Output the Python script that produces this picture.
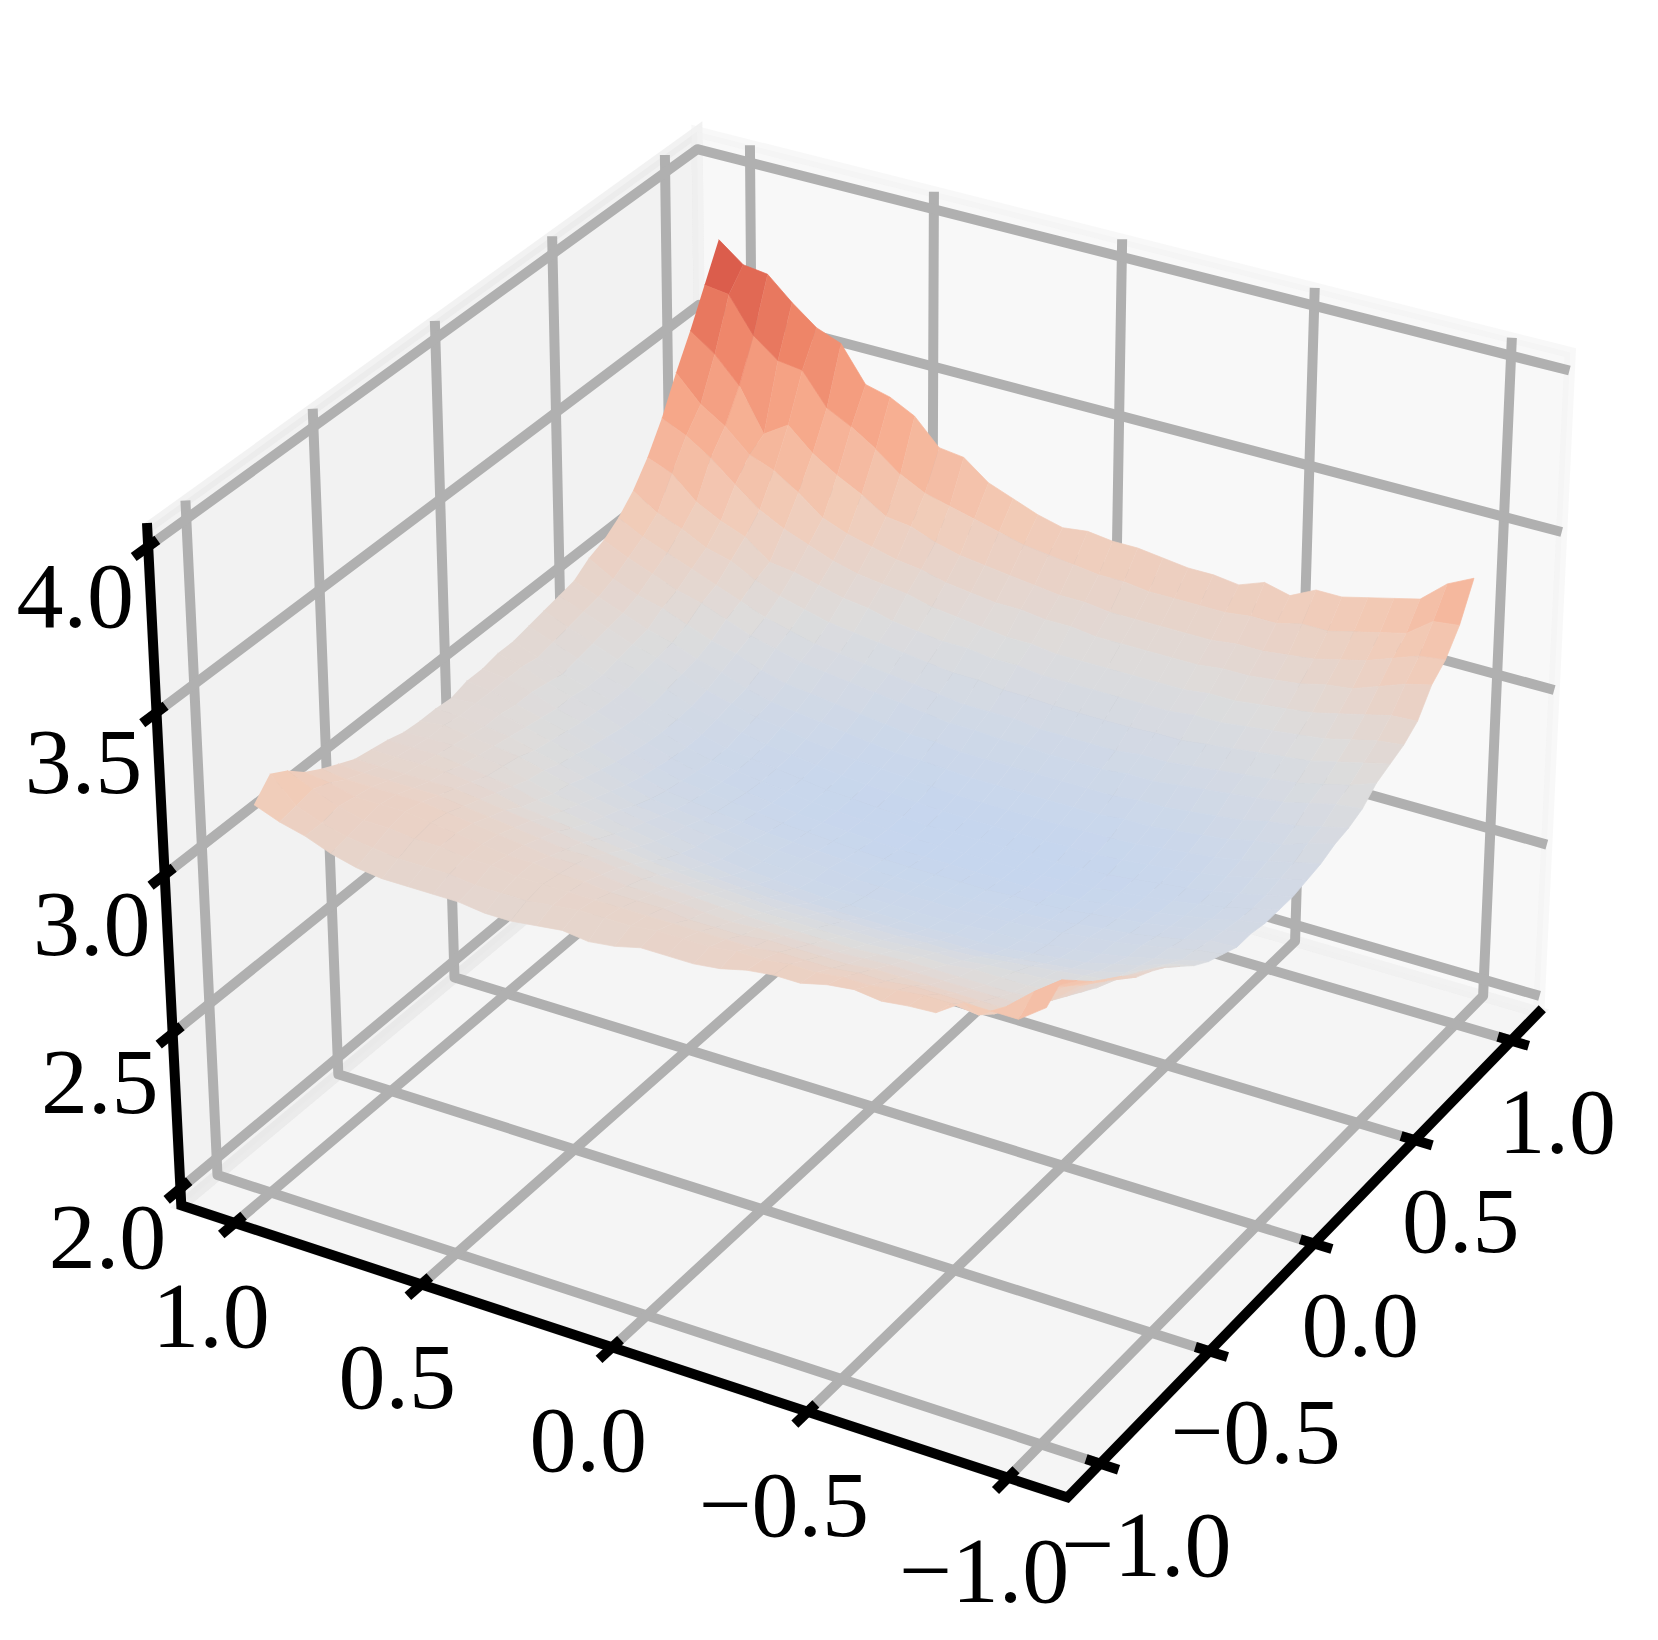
import numpy as np, pandas as pd, altair as alt
alt.data_transformers.disable_max_rows()
row_00=[3.83,3.77,3.76,3.69,3.63,3.60,3.49,3.47,3.43,3.35,3.34,3.28,3.25,3.22,3.20,3.21,3.20,3.20,3.19,3.18,3.18,3.17,3.20,3.18,3.22,3.22,3.24,3.26,3.28,3.35,3.39]
row_01=[3.72,3.71,3.60,3.54,3.53,3.43,3.39,3.34,3.28,3.24,3.22,3.20,3.18,3.16,3.15,3.14,3.13,3.13,3.12,3.12,3.12,3.12,3.13,3.13,3.15,3.15,3.17,3.19,3.21,3.27,3.28]
row_02=[3.61,3.555,3.475,3.34,3.39,3.32,3.27,3.23,3.18,3.17,3.14,3.12,3.11,3.10,3.09,3.08,3.08,3.07,3.07,3.07,3.07,3.07,3.08,3.08,3.09,3.10,3.12,3.14,3.17,3.20,3.21]
row_03=[3.51,3.43,3.38,3.31,3.28,3.23,3.17,3.14,3.12,3.10,3.09,3.07,3.06,3.05,3.05,3.04,3.04,3.03,3.03,3.03,3.03,3.03,3.04,3.04,3.05,3.06,3.08,3.09,3.12,3.15,3.17]
row_04=[3.40,3.365,3.315,3.25,3.19,3.15,3.12,3.09,3.07,3.06,3.05,3.03,3.02,3.01,3.00,3.00,2.99,2.99,2.99,2.99,2.99,2.99,3.00,3.00,3.01,3.02,3.03,3.05,3.07,3.09,3.095]
row_05=[3.31,3.28,3.21,3.17,3.14,3.08,3.07,3.05,3.03,3.02,3.00,2.99,2.98,2.98,2.97,2.97,2.96,2.96,2.96,2.96,2.96,2.96,2.97,2.97,2.98,2.99,3.00,3.01,3.03,3.05,3.06]
row_06=[3.24,3.19,3.16,3.12,3.10,3.06,3.03,3.01,2.99,2.98,2.97,2.96,2.95,2.94,2.94,2.93,2.93,2.925,2.925,2.925,2.925,2.93,2.93,2.94,2.95,2.96,2.97,2.98,3.00,3.02,3.04]
row_07=[3.19,3.15,3.12,3.09,3.06,3.03,3.00,2.98,2.96,2.95,2.94,2.93,2.92,2.91,2.90,2.90,2.90,2.89,2.89,2.89,2.89,2.90,2.90,2.91,2.92,2.93,2.94,2.95,2.97,2.99,3.02]
row_08=[3.155,3.12,3.09,3.06,3.04,3.01,2.98,2.96,2.94,2.93,2.92,2.91,2.90,2.89,2.88,2.88,2.875,2.875,2.87,2.87,2.87,2.88,2.88,2.89,2.90,2.91,2.92,2.93,2.95,2.97,2.98]
row_09=[3.135,3.09,3.06,3.04,3.01,2.98,2.96,2.93,2.91,2.90,2.89,2.88,2.87,2.86,2.86,2.85,2.85,2.85,2.85,2.85,2.85,2.85,2.86,2.86,2.87,2.88,2.89,2.91,2.92,2.94,2.96]
row_10=[3.10,3.07,3.04,3.01,2.99,2.96,2.94,2.91,2.89,2.88,2.87,2.86,2.85,2.84,2.84,2.835,2.83,2.83,2.83,2.83,2.83,2.83,2.84,2.84,2.85,2.86,2.87,2.89,2.90,2.93,2.95]
row_11=[3.09,3.06,3.03,3.00,2.98,2.95,2.92,2.90,2.88,2.87,2.855,2.845,2.835,2.83,2.825,2.82,2.815,2.815,2.815,2.815,2.815,2.82,2.82,2.825,2.835,2.845,2.855,2.87,2.89,2.91,2.93]
row_12=[3.08,3.05,3.02,2.99,2.97,2.94,2.91,2.89,2.87,2.855,2.845,2.835,2.825,2.82,2.815,2.81,2.805,2.805,2.805,2.805,2.805,2.81,2.81,2.815,2.825,2.835,2.845,2.86,2.88,2.90,2.92]
row_13=[3.07,3.04,3.01,2.98,2.96,2.93,2.905,2.88,2.86,2.85,2.84,2.83,2.82,2.815,2.81,2.805,2.80,2.80,2.80,2.80,2.80,2.80,2.805,2.81,2.82,2.83,2.84,2.855,2.87,2.89,2.91]
row_14=[3.06,3.03,3.00,2.98,2.96,2.93,2.905,2.88,2.86,2.85,2.84,2.83,2.82,2.815,2.81,2.805,2.80,2.80,2.80,2.80,2.80,2.80,2.805,2.81,2.82,2.83,2.84,2.855,2.87,2.89,2.91]
row_15=[3.06,3.04,3.01,2.99,2.965,2.935,2.91,2.885,2.865,2.855,2.845,2.835,2.825,2.82,2.815,2.81,2.805,2.805,2.805,2.805,2.805,2.805,2.81,2.815,2.825,2.835,2.845,2.86,2.875,2.895,2.91]
row_16=[3.05,3.04,3.02,2.99,2.97,2.945,2.92,2.895,2.875,2.865,2.855,2.845,2.835,2.83,2.825,2.82,2.815,2.815,2.815,2.815,2.815,2.82,2.82,2.825,2.835,2.845,2.855,2.87,2.885,2.905,2.92]
row_17=[3.05,3.04,3.02,3.00,2.98,2.955,2.93,2.905,2.885,2.875,2.865,2.855,2.845,2.84,2.835,2.83,2.825,2.825,2.825,2.825,2.825,2.83,2.83,2.835,2.845,2.855,2.865,2.88,2.895,2.915,2.92]
row_18=[3.035,3.04,3.03,3.01,2.99,2.97,2.945,2.92,2.90,2.89,2.88,2.87,2.86,2.855,2.85,2.845,2.835,2.835,2.835,2.835,2.835,2.84,2.845,2.85,2.86,2.87,2.88,2.895,2.91,2.93,2.94]
row_19=[3.04,3.04,3.03,3.02,3.00,2.98,2.96,2.94,2.92,2.91,2.90,2.89,2.875,2.86,2.855,2.85,2.845,2.845,2.845,2.845,2.845,2.85,2.855,2.855,2.865,2.875,2.885,2.90,2.92,2.94,2.96]
row_20=[3.04,3.05,3.04,3.03,3.02,3.00,2.98,2.96,2.945,2.93,2.915,2.90,2.885,2.875,2.87,2.865,2.86,2.86,2.86,2.86,2.86,2.865,2.865,2.87,2.88,2.89,2.90,2.92,2.94,2.97,2.99]
row_21=[3.045,3.05,3.05,3.04,3.03,3.01,2.99,2.98,2.965,2.95,2.935,2.92,2.91,2.90,2.895,2.89,2.885,2.885,2.885,2.885,2.885,2.89,2.89,2.895,2.905,2.915,2.925,2.94,2.96,3.00,3.03]
row_22=[3.06,3.06,3.06,3.05,3.04,3.03,3.01,3.00,2.985,2.975,2.96,2.945,2.935,2.93,2.925,2.92,2.92,2.92,2.92,2.92,2.92,2.925,2.925,2.93,2.94,2.95,2.96,2.97,2.98,3.03,3.07]
row_23=[3.07,3.07,3.07,3.07,3.06,3.05,3.03,3.02,3.01,3.00,2.99,2.98,2.97,2.965,2.96,2.955,2.95,2.95,2.95,2.95,2.95,2.955,2.96,2.96,2.97,2.975,2.98,2.99,3.00,3.06,3.10]
row_24=[3.08,3.08,3.08,3.08,3.08,3.07,3.06,3.05,3.04,3.03,3.02,3.01,3.00,2.995,2.99,2.985,2.98,2.98,2.98,2.98,2.98,2.985,2.99,2.99,3.00,3.00,3.00,3.01,3.03,3.09,3.125]
row_25=[3.105,3.10,3.10,3.10,3.10,3.09,3.08,3.07,3.06,3.05,3.05,3.04,3.03,3.025,3.02,3.015,3.01,3.01,3.01,3.01,3.01,3.015,3.02,3.02,3.02,3.02,3.02,3.03,3.06,3.13,3.17]
row_26=[3.13,3.12,3.12,3.12,3.12,3.11,3.10,3.09,3.08,3.07,3.07,3.06,3.05,3.05,3.045,3.04,3.035,3.04,3.04,3.04,3.04,3.045,3.05,3.05,3.05,3.05,3.05,3.05,3.09,3.16,3.20]
row_27=[3.16,3.15,3.13,3.13,3.13,3.12,3.11,3.10,3.09,3.09,3.08,3.08,3.07,3.07,3.07,3.06,3.06,3.06,3.07,3.07,3.07,3.07,3.08,3.08,3.08,3.08,3.08,3.08,3.13,3.20,3.24]
row_28=[3.205,3.17,3.14,3.12,3.12,3.11,3.11,3.10,3.10,3.09,3.09,3.09,3.09,3.09,3.09,3.09,3.09,3.09,3.09,3.10,3.10,3.10,3.11,3.11,3.12,3.12,3.12,3.11,3.17,3.24,3.285]
row_29=[3.235,3.16,3.13,3.11,3.10,3.09,3.09,3.09,3.08,3.08,3.08,3.09,3.10,3.10,3.10,3.11,3.11,3.11,3.12,3.12,3.13,3.13,3.14,3.14,3.15,3.16,3.16,3.15,3.20,3.27,3.33]
row_30=[3.18,3.15,3.13,3.10,3.08,3.07,3.07,3.07,3.07,3.06,3.06,3.07,3.08,3.07,3.08,3.10,3.10,3.10,3.11,3.13,3.14,3.14,3.16,3.17,3.16,3.17,3.175,3.23,3.23,3.23,3.29]
Z=np.array([row_00,row_01,row_02,row_03,row_04,row_05,row_06,row_07,row_08,row_09,row_10,row_11,row_12,row_13,row_14,row_15,row_16,row_17,row_18,row_19,row_20,row_21,row_22,row_23,row_24,row_25,row_26,row_27,row_28,row_29,row_30])
n=31
ax=[-1.0,-0.5,0.0,0.5,1.0]
zt=[2.0,2.5,3.0,3.5,4.0]
BOX=1.146; ZL=1.945; ZH=4.055
elev,azim=np.radians(30),np.radians(-149.9)
k=0.2976
def world(x,y,z):
    return np.array([x/1.1*2*k, y/1.1*2*k, (z-3)*1.5*k])
w_=np.array([np.cos(elev)*np.cos(azim),np.cos(elev)*np.sin(azim),np.sin(elev)])
u_=np.array([-np.sin(azim),np.cos(azim),0]);v_=np.cross(w_,u_)
def proj(x,y,z):
    p=world(x,y,z);d=10-w_@p
    return float(u_@p/d),float(v_@p/d),float(d)
W,H=1642,1624
xs=alt.Scale(domain=[(8-873)/8195,(1650-873)/8195],nice=False,zero=False)
ys=alt.Scale(domain=[(780.6-1632)/8190,(780.6-8)/8190],nice=False,zero=False)
X=alt.X('px:Q',scale=xs,axis=None);Y=alt.Y('py:Q',scale=ys,axis=None)
def rows(polys):
    out=[]
    for g,(pts,extra) in enumerate(polys):
        for o,pt in enumerate(pts):
            a,b,_=proj(*pt);r={'g':g,'o':o,'px':a,'py':b};r.update(extra);out.append(r)
    return pd.DataFrame(out)
def poly(pts,c):
    d=rows([(pts+pts[:1],{})])
    return alt.Chart(d).mark_line(filled=True,fill=c,stroke=c,fillOpacity=.5,strokeOpacity=.5,strokeWidth=11,strokeJoin='miter').encode(x=X,y=Y,detail='g:N',order='o:Q')
b,zl,zh=BOX,ZL,ZH
pane_floor=poly([(-b,-b,zl),(b,-b,zl),(b,b,zl),(-b,b,zl)],'#ececec')
pane_left=poly([(-b,b,zl),(b,b,zl),(b,b,zh),(-b,b,zh)],'#e6e6e6')
pane_right=poly([(b,-b,zl),(b,b,zl),(b,b,zh),(b,-b,zh)],'#f2f2f2')
gl=[]
for t in ax:
    gl.append(([(t,-b,zl),(t,b,zl),(t,b,zh)],{}))
    gl.append(([(-b,t,zl),(b,t,zl),(b,t,zh)],{}))
for t in zt:
    gl.append(([(-b,b,t),(b,b,t),(b,-b,t)],{}))
grid=alt.Chart(rows(gl)).mark_line(color='#b0b0b0',strokeWidth=10,strokeJoin='round',strokeCap='butt').encode(x=X,y=Y,detail='g:N',order='o:Q')
al=rows([([(-b,b,zh),(-b,b,zl),(-b,-b,zl),(b,-b,zl)],{})])
axes=alt.Chart(al).mark_line(color='black',strokeWidth=10,strokeJoin='miter',strokeCap='square').encode(x=X,y=Y,detail='g:N',order='o:Q')
tk=[]
for t in ax:
    tk.append(([(-b-.055,t,zl),(-b+.035,t,zl)],{}))
    tk.append(([(t,-b-.045,zl),(t,-b+.035,zl)],{}))
for t in zt:
    tk.append(([(-b-.055,b,t),(-b+.035,b,t)],{}))
ticks=alt.Chart(rows(tk)).mark_line(color='black',strokeWidth=10,strokeCap='butt').encode(x=X,y=Y,detail='g:N',order='o:Q')
cells=[]
g=np.linspace(1,-1,n)
for i in range(n-1):
    for j in range(n-1):
        idx=[(i,j),(i,j+1),(i+1,j+1),(i+1,j)]
        pts=[(g[a],g[c],Z[a,c]) for a,c in idx]
        dm=np.mean([proj(*p)[2] for p in pts]);zm=float(np.mean([p[2] for p in pts]))
        cells.append((dm,zm,pts))
cells.sort(key=lambda c:-c[0])
sd=rows([(c[2],{'z':c[1]}) for c in cells])
cm=alt.Scale(domain=[2,2.2,2.4,2.6,2.8,3.0,3.2,3.4,3.6,3.8,4.0],range=['#3b4cc0','#5977e3','#7b9ff9','#9ebeff','#c6d6ee','#dddcdc','#f2cbb7','#f7ac8e','#ee8468','#d65244','#b40426'],interpolate='rgb')
surf=alt.Chart(sd).mark_line(filled=True,strokeWidth=.7).encode(x=X,y=Y,detail='g:N',order='o:Q',color=alt.Color('z:Q',scale=cm,legend=None),stroke=alt.Stroke('z:Q',scale=cm,legend=None))
def labels(tv,fn,dx,dy):
    d=[]
    for t,s in tv:
        a,b_,_=proj(*fn(t));d.append({'px':a,'py':b_,'s':s})
    return alt.Chart(pd.DataFrame(d)).mark_text(font='Liberation Serif',fontSize=94,color='black',dx=dx,dy=dy,baseline='middle',align='center').encode(x=X,y=Y,text='s:N')
fmt=lambda t:f"{t:.1f}".replace('-','\u2212')
lz=labels([(t,fmt(t)) for t in zt],lambda t:(-b,b,t),-73,52)
ll=labels([(t,fmt(t)) for t in ax],lambda t:(-b,t,zl),-24,96)
lr=labels([(t,fmt(t)) for t in ax],lambda t:(t,-b,zl),46,84)
chart=alt.layer(pane_floor,pane_left,pane_right,grid,axes,ticks,surf,lz,ll,lr).properties(width=W,height=H,padding=0,autosize='none').configure(background='white',view=alt.ViewConfig(stroke=None))
chart.save("out.html",embed_options={"renderer":"svg","actions":False})
